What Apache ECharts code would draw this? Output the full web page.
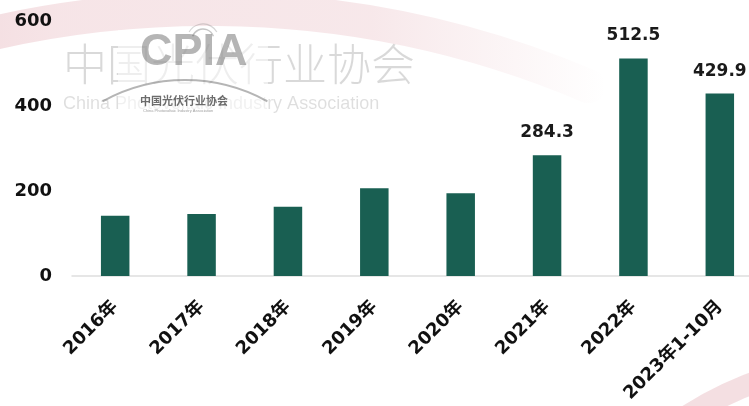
<!DOCTYPE html>
<html>
<head>
<meta charset="utf-8">
<script src="https://cdn.jsdelivr.net/npm/echarts@6/dist/echarts.min.js"></script>
<style>
  html, body { margin: 0; padding: 0; background: #ffffff; overflow: hidden; }
  /* the plot runs a little past the right edge of the window */
  #chart { width: 763px; height: 406px; }
</style>
</head>
<body>
<div id="chart"></div>
<script>
// Categories and values
const years = ['2016年', '2017年', '2018年', '2019年', '2020年', '2021年', '2022年', '2023年1-10月'];
const values = [142, 146, 163, 207, 195, 284.3, 512.5, 429.9];
// Which bars carry a value label
const showValue = [false, false, false, false, false, true, true, true];
const yTicks = [0, 200, 400, 600];

const FONT = "'DejaVu Sans', 'Noto Sans CJK SC', sans-serif";
const barColor = '#195f52';

const chart = echarts.init(document.getElementById('chart'), null, { renderer: 'canvas' });

const deg = Math.PI / 180;

const option = {
  backgroundColor: '#ffffff',
  animation: false,
  grid: { left: 72, top: 21.4, right: 0, bottom: 406 - 276 },
  graphic: [
    // pale pink sweeping band across the top
    {
      type: 'arc', z: -10, silent: true,
      shape: { cx: 209, cy: 981, r: 972, startAngle: -112 * deg, endAngle: -67 * deg, clockwise: true },
      style: {
        fill: 'none', lineWidth: 34, lineCap: 'round',
        stroke: new echarts.graphic.LinearGradient(0, 0, 1, 0, [
          { offset: 0, color: 'rgba(220,150,160,0.42)' },
          { offset: 0.3, color: 'rgba(220,150,160,0.25)' },
          { offset: 0.7, color: 'rgba(220,150,160,0.22)' },
          { offset: 1, color: 'rgba(220,150,160,0.0)' }
        ])
      }
    },
    // pink band in the lower right corner
    {
      type: 'arc', z: -10, silent: true,
      shape: { cx: 880, cy: 720, r: 360, startAngle: -125 * deg, endAngle: -100 * deg, clockwise: true },
      style: { fill: 'none', lineWidth: 22, stroke: 'rgba(220,150,160,0.3)' }
    },
    // association name watermark
    {
      type: 'text', z: -5, silent: true, left: 63, top: 42,
      style: { text: '中国光伏行业协会', font: '300 44px "Noto Sans CJK SC", sans-serif', fill: 'rgba(0,0,0,0.15)' }
    },
    {
      type: 'text', z: -5, silent: true, left: 63, top: 95,
      style: { text: 'China Photovoltaic Industry Association', font: '18px "Liberation Sans", sans-serif', fill: 'rgba(0,0,0,0.13)' }
    },
    // CPIA logo
    {
      type: 'rect', z: -4, silent: true,
      shape: { x: 118, y: 30, width: 150, height: 82 },
      style: { fill: 'rgba(255,255,255,0.55)' }
    },
    {
      type: 'text', z: -3, silent: true, left: 140, top: 30,
      style: { text: 'CPIA', font: 'bold 45px "Liberation Sans", sans-serif', fill: 'rgba(90,90,90,0.45)' }
    },
    {
      type: 'arc', z: -3, silent: true,
      shape: { cx: 203, cy: 40, r: 11, startAngle: -160 * deg, endAngle: -20 * deg, clockwise: true },
      style: { fill: 'none', lineWidth: 1.5, stroke: 'rgba(90,90,90,0.35)' }
    },
    {
      type: 'arc', z: -3, silent: true,
      shape: { cx: 203, cy: 40, r: 16, startAngle: -150 * deg, endAngle: -30 * deg, clockwise: true },
      style: { fill: 'none', lineWidth: 1.2, stroke: 'rgba(90,90,90,0.25)' }
    },
    {
      type: 'arc', z: -3, silent: true,
      shape: { cx: 185, cy: 250, r: 170, startAngle: -119 * deg, endAngle: -61 * deg, clockwise: true },
      style: { fill: 'none', lineWidth: 2, stroke: 'rgba(90,90,90,0.45)' }
    },
    {
      type: 'text', z: -3, silent: true, left: 140, top: 95,
      style: { text: '中国光伏行业协会', font: 'bold 11px "Noto Sans CJK SC", sans-serif', fill: 'rgba(60,60,60,0.75)' }
    },
    {
      type: 'text', z: -3, silent: true, left: 143, top: 109,
      style: { text: 'China Photovoltaic Industry Association', font: '4px "Liberation Sans", sans-serif', fill: 'rgba(60,60,60,0.5)' }
    }
  ],
  xAxis: {
    type: 'category',
    data: years,
    axisLine: { show: true, lineStyle: { color: '#dedede', width: 1.5 } },
    axisTick: { show: false },
    axisLabel: {
      interval: 0, rotate: 45, margin: 28,
      color: '#111', fontFamily: FONT, fontWeight: 'bold', fontSize: 18
    }
  },
  yAxis: {
    type: 'value',
    min: yTicks[0],
    max: yTicks[yTicks.length - 1],
    interval: yTicks[1] - yTicks[0],
    axisLine: { show: false },
    axisTick: { show: false },
    splitLine: { show: false },
    axisLabel: { margin: 20, color: '#111', fontFamily: FONT, fontWeight: 'bold', fontSize: 18 }
  },
  series: [{
    type: 'bar',
    barWidth: 28.5,
    itemStyle: { color: barColor },
    data: values.map((v, i) => ({
      value: v,
      label: {
        show: showValue[i], position: 'top', distance: 14,
        color: '#1a1a1a', fontFamily: FONT, fontWeight: 'bold', fontSize: 17,
        formatter: (p) => String(p.value)
      }
    }))
  }]
};

chart.setOption(option);
</script>
</body>
</html>
